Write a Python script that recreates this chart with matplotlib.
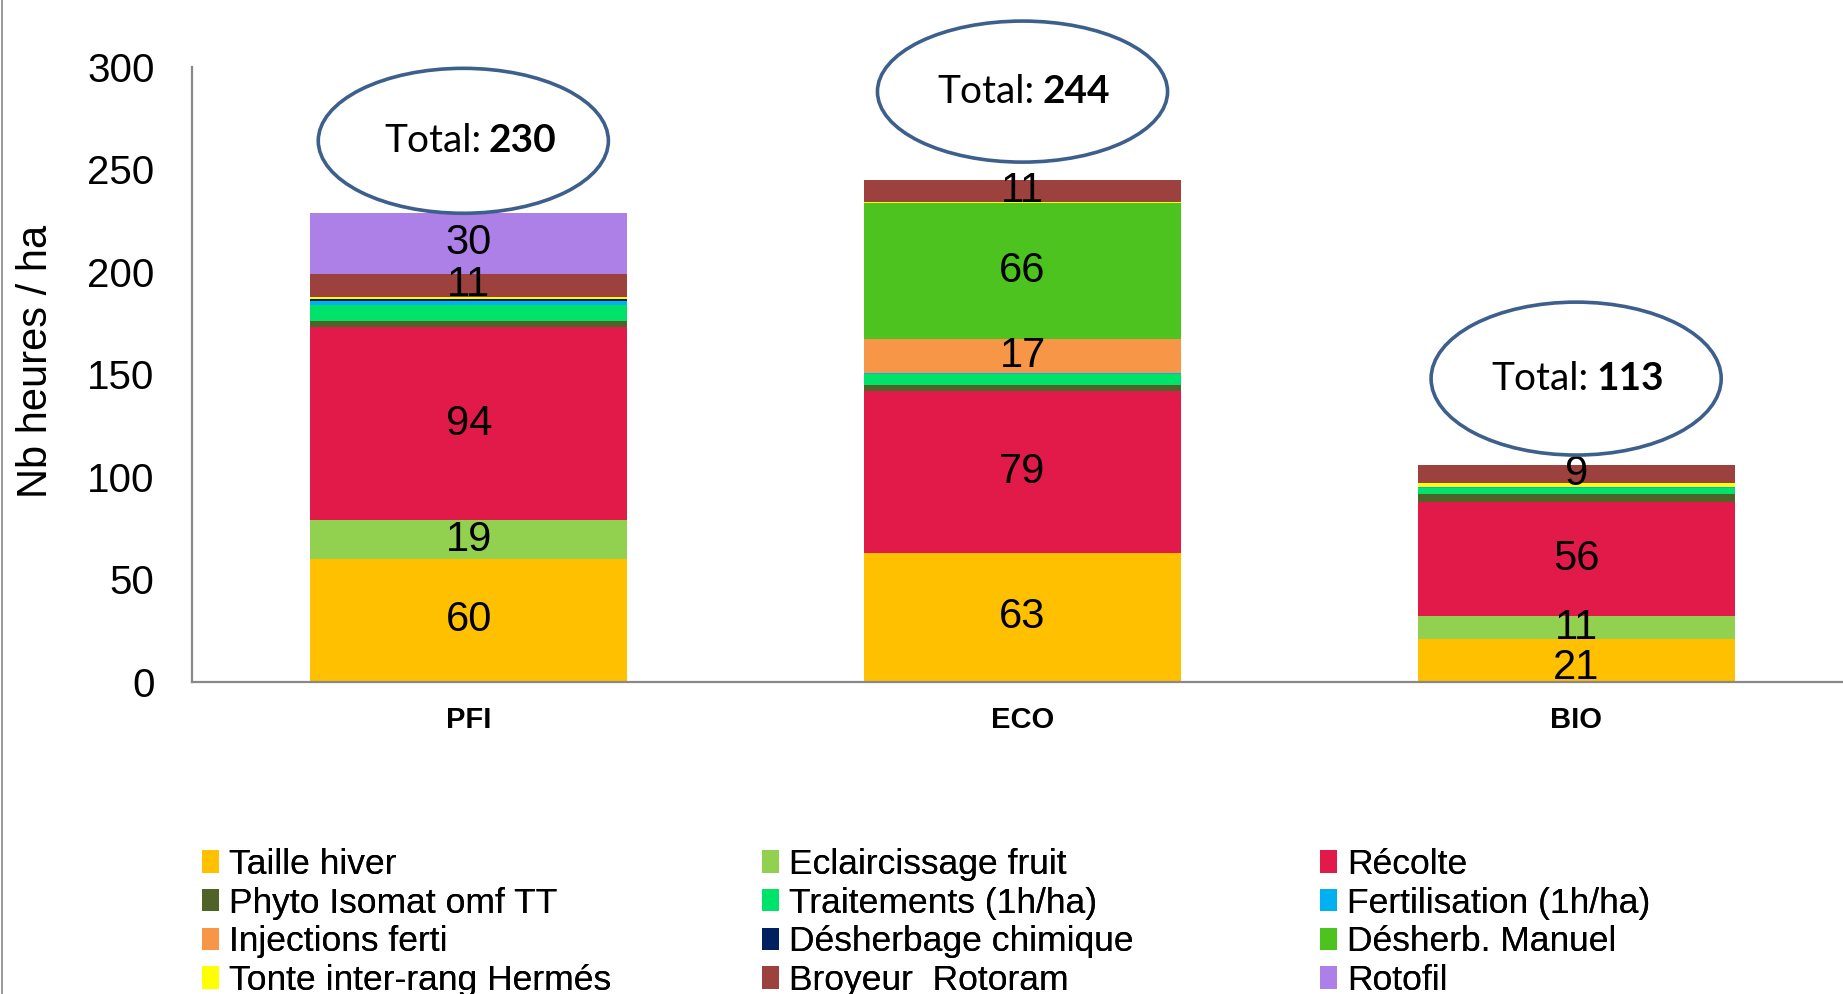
import numpy as np
import matplotlib.pyplot as plt
from matplotlib.patches import Ellipse
from matplotlib.lines import Line2D

plt.rcParams['font.family'] = ['Liberation Sans', 'DejaVu Sans']

# data
systems = ['PFI', 'ECO', 'BIO']
totals = [230, 244, 113]
postes = ['Taille hiver', 'Eclaircissage fruit', 'Récolte', 'Phyto Isomat omf TT',
          'Traitements (1h/ha)', 'Fertilisation (1h/ha)', 'Injections ferti',
          'Désherbage chimique', 'Désherb. Manuel', 'Tonte inter-rang Hermés',
          'Broyeur  Rotoram', 'Rotofil']
colors = ['#FFC000', '#92D050', '#E21A4A', '#4F6228', '#00E36A', '#00B0F0',
          '#F79646', '#002060', '#4DC31F', '#FFFF00', '#9C413E', '#AC80E6']

pfi = [60, 19, 94, 3, 8, 2, 0, 1, 0, 1, 11, 30]
eco = [63, 0, 79, 3, 5, 0.5, 17, 0, 66, 0.5, 11, 0]
bio = [21, 11, 56, 3.5, 3, 0.5, 0, 0, 0, 2, 9, 0]
values = np.array([pfi, eco, bio])

fig = plt.figure(figsize=(18.43, 9.94), dpi=100)
ax = fig.add_axes([0.1042, 0.3139, 0.8958, 0.6187])

x = np.arange(len(systems))
bottom = np.zeros(len(systems))
handles = []
for j, name in enumerate(postes):
    h = ax.bar(x, values[:, j], 0.573, bottom=bottom, color=colors[j], label=name)
    handles.append(h)
    for i in range(len(systems)):
        v = values[i, j]
        if v >= 9:
            yc = bottom[i] + v / 2
            if i == 2 and j == 0:
                yc -= 3.5  # label pushed down in the original
            ax.text(x[i], yc, f'{v:g}', ha='center', va='center', fontsize=30)
    bottom += values[:, j]

ax.set_xlim(-0.5, 2.482)
ax.set_ylim(0, 300)
ax.set_yticks(np.arange(0, 301, 50))
ax.tick_params(axis='y', length=0, labelsize=29, pad=27)
ax.tick_params(axis='x', length=0, pad=17)
ax.set_xticks(x)
ax.set_xticklabels(systems, fontsize=21, fontweight='bold')
for s in ['top', 'right']:
    ax.spines[s].set_visible(False)
for s in ['left', 'bottom']:
    ax.spines[s].set_color('#888888')
    ax.spines[s].set_linewidth(1.6)

fig.text(36 / 1843, 1 - 361 / 994, 'Nb heures / ha', rotation=90,
         ha='center', va='center', fontsize=30)

# totals in ellipses
ell_x = [-0.01, 0, 0]
ell_y = [264, 288, 148]
ell_h = [70.7, 68.8, 74.6]
for i, t in enumerate(totals):
    e = Ellipse((x[i] + ell_x[i], ell_y[i]), 0.524, ell_h[i], fill=False,
                edgecolor='#3D5F8C', linewidth=2.6, clip_on=False, zorder=5)
    ax.add_patch(e)
    ax.text(x[i] + 0.022, ell_y[i], 'Total:', ha='right', va='center',
            fontsize=28, family='Lato', zorder=6)
    ax.text(x[i] + 0.036, ell_y[i], str(t), ha='left', va='center',
            fontsize=28, family='Lato', fontweight='bold', zorder=6)

# legend, three columns filled row by row
col_x = [202 / 1843, 761.6 / 1843, 1320 / 1843]
for c in range(3):
    idx = [c, c + 3, c + 6, c + 9]
    leg = fig.legend([handles[k] for k in idx], [postes[k] for k in idx],
                     loc='upper left', bbox_to_anchor=(col_x[c], 1 - 848 / 994),
                     frameon=False, fontsize=25.5, handlelength=0.48,
                     handleheight=0.6, handletextpad=0.28, labelspacing=0.16,
                     borderpad=0, borderaxespad=0)
    fig.add_artist(leg)

# chart-area border (only the left edge is visible in the crop)
fig.add_artist(Line2D([2 / 1843, 2 / 1843], [0, 1], color='#888888',
                      linewidth=1.2, transform=fig.transFigure))

fig.savefig('out.png', dpi=100)
